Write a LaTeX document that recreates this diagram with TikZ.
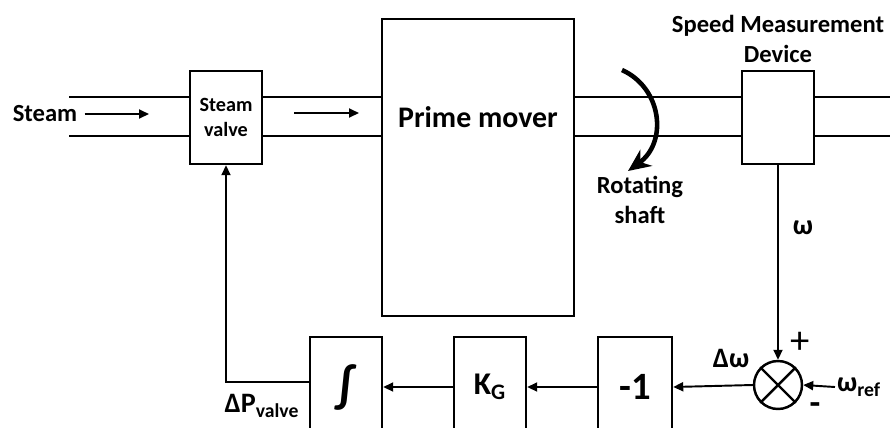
\documentclass[tikz,border=0pt]{standalone}
\usepackage{fontspec}
\setmainfont{Carlito}
\usetikzlibrary{arrows.meta}

\tikzset{
    blk/.style={draw, line width=1.4pt, inner sep=0pt},
    lbl/.style={font=\bfseries\fontsize{14}{17}\selectfont, inner sep=1pt},
    sym/.style={font=\bfseries\fontsize{16}{18}\selectfont, inner sep=1pt},
    sig/.style={line width=1.1pt, -{Triangle[length=2mm,width=1.8mm]}},
    pipe/.style={line width=1.3pt},
}

\begin{document}
\begin{tikzpicture}[x=0.02cm, y=-0.02cm]
    \clip (0,0) rectangle (890,427);

    % 蒸汽通路
    \node[blk, minimum width=1.44cm, minimum height=1.86cm, align=center,
          font=\bfseries\fontsize{11.5}{14}\selectfont] (valve) at (226,117.5) {Steam\\valve};
    \node[blk, minimum width=3.84cm, minimum height=5.94cm] (prime) at (478,167.5) {};
    \node[font=\bfseries\fontsize{17}{20}\selectfont] (primetxt) at (478,117) {Prime mover};
    \node[blk, minimum width=1.44cm, minimum height=1.86cm] (speed) at (778,117.5) {};
    \node[lbl, align=center, anchor=south] (speedtxt) at ([yshift=3pt]speed.north) {Speed Measurement\\Device};

    % 管道
    \foreach \y in {97,136} {
        \draw[pipe] (69,\y) -- (190,\y);
        \draw[pipe] (262,\y) -- (382,\y);
        \draw[pipe] (574,\y) -- (742,\y);
        \draw[pipe] (814,\y) -- (890,\y);
    }

    % 蒸汽箭头
    \node[lbl] (steam) at (45,114) {Steam};
    \coordinate (sa) at (149,114);
    \draw[sig, shorten <=3pt] (steam.east) -- (sa);
    \coordinate (fa) at (294,113);
    \coordinate (fb) at (359,113);
    \draw[sig] (fa) -- (fb);

    % 转轴
    \draw[line width=2.6pt, -{Stealth[length=4.5mm,width=4mm]}]
        (622,70) .. controls (662,88) and (668,142) .. (628,171);
    \node[lbl, align=center] (shaft) at (640,200) {Rotating\\shaft};

    % 反馈回路
    \node[blk, circle, minimum size=0.96cm] (sum) at (778,385) {};
    \draw[line width=1.4pt] (sum.north west) -- (sum.south east)
                            (sum.north east) -- (sum.south west);
    \node[blk, minimum width=1.48cm, minimum height=2cm,
          font=\bfseries\fontsize{22}{22}\selectfont] (neg) at (635,387) {-1};
    \node[blk, minimum width=1.44cm, minimum height=2cm,
          font=\bfseries\fontsize{18}{20}\selectfont] (gain) at (490,387) {K\textsubscript{G}};
    \node[blk, minimum width=1.44cm, minimum height=2cm,
          font=\bfseries\fontsize{28}{28}\selectfont] (integ) at (346,387) {∫};

    \draw[sig] (speed.south) -- (sum.north);
    \node[sym] (wref) at (859,387) {ω\textsubscript{ref}};
    \draw[sig] (wref.west) -- (sum.east);
    \draw[sig] (sum.west) -- (neg.east);
    \draw[sig] (neg.west) -- (gain.east);
    \draw[sig] (gain.west) -- (integ.east);
    \draw[sig] ([yshift=3pt]integ.west) -| (valve.south);

    % 标注
    \node[sym] (w) at (803,228) {ω};
    \node[font=\fontsize{22}{22}\selectfont] (plus) at (800,343) {+};
    \node[font=\bfseries\fontsize{20}{20}\selectfont] (minus) at (815,409) {-};
    \node[sym] (dw) at (731,358) {Δω};
    \node[sym] (dp) at (262,406) {ΔP\textsubscript{valve}};
\end{tikzpicture}
\end{document}
